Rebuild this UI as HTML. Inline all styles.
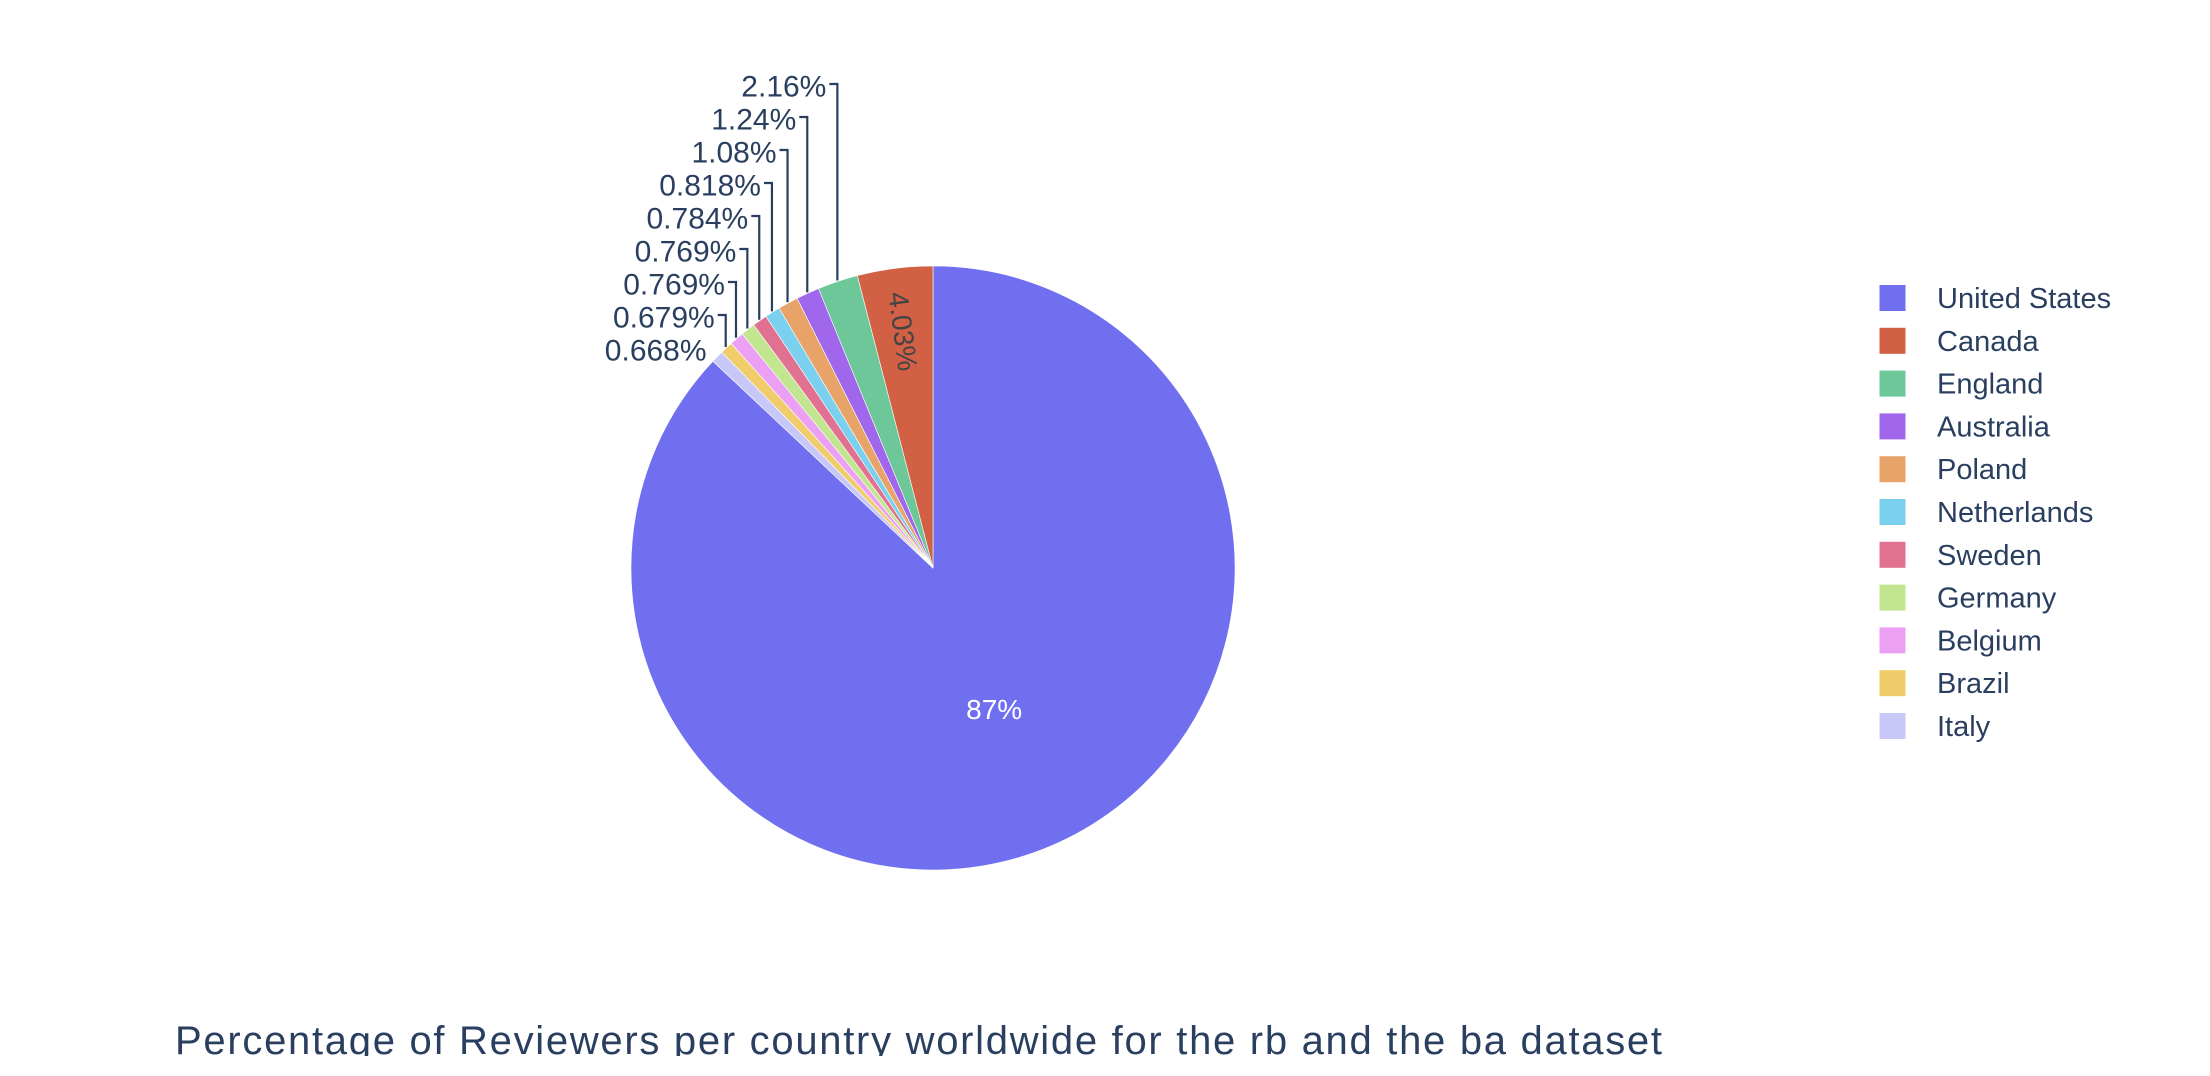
<!DOCTYPE html>
<html><head><meta charset="utf-8"><style>
html,body{margin:0;padding:0;background:#fff;}
#wrap{width:2210px;height:1076px;position:relative;overflow:hidden;}
svg text{font-family:"Liberation Sans",sans-serif;}
</style></head><body>
<div id="wrap">
<svg id="svg" width="2210" height="1076" xmlns="http://www.w3.org/2000/svg">
<defs><clipPath id="tc"><rect x="0" y="0" width="2210" height="1056"/></clipPath></defs>
<g id="slices"></g>
<g id="labels"></g>
<g id="legend"></g>
<text x="175" y="1054" font-size="40" fill="#2a3f5f" clip-path="url(#tc)" textLength="1487">Percentage of Reviewers per country worldwide for the rb and the ba dataset</text>
</svg>
</div>
<script>
const countries = ["United States","Canada","England","Australia","Poland","Netherlands","Sweden","Germany","Belgium","Brazil","Italy"];
const percents = [87, 4.03, 2.16, 1.24, 1.08, 0.818, 0.784, 0.769, 0.769, 0.679, 0.668];
const labelsText = ["87%","4.03%","2.16%","1.24%","1.08%","0.818%","0.784%","0.769%","0.769%","0.679%","0.668%"];
const colors = ["#6f6ff0","#d26045","#6dc799","#a066ec","#e8a468","#7ad0ee","#e07190","#c2e690","#eca0f4","#f0cc6a","#c8c8f8"];

const NS="http://www.w3.org/2000/svg";
const cx=933, cy=568, R=302;
function mk(tag,attrs,parent){const e=document.createElementNS(NS,tag);for(const k in attrs)e.setAttribute(k,attrs[k]);parent.appendChild(e);return e;}
const total=percents.reduce((a,b)=>a+b,0);
function pt(angDeg,r){const a=angDeg*Math.PI/180;return [cx+r*Math.sin(a), cy-r*Math.cos(a)];}
const order=[0]; for(let i=countries.length-1;i>=1;i--) order.push(i);
const slicesG=document.getElementById('slices'), labG=document.getElementById('labels');
let ang=0; const mids={};
order.forEach(i=>{
  const span=percents[i]/total*360, a0=ang, a1=ang+span; ang=a1;
  mids[i]=(a0+a1)/2;
  const p0=pt(a0,R), p1=pt(a1,R);
  const large=span>180?1:0;
  const p=mk('path',{d:`M${cx},${cy} L${p0[0]},${p0[1]} A${R},${R} 0 ${large} 1 ${p1[0]},${p1[1]} Z`,fill:colors[i],stroke:'#fff','stroke-width':0.6},slicesG);
  
  
});
{
  const m=mids[0], q=pt(m,R*0.51);
  const t=mk('text',{x:q[0],y:q[1],'font-size':28,fill:'#fff','text-anchor':'middle','dominant-baseline':'central'},labG);
  t.textContent=labelsText[0];
  
  
  const m1=mids[1], q1=pt(m1,R*0.79);
  const rot=90+(m1-360);
  const t1=mk('text',{x:q1[0],y:q1[1],'font-size':28,fill:'#444','text-anchor':'middle','dominant-baseline':'central',transform:`rotate(${rot} ${q1[0]} ${q1[1]})`},labG);
  t1.textContent=labelsText[1];
  
  
}
for(let i=2;i<countries.length;i++){
  const k=i-2, rowY=84+33*k;
  const p=pt(mids[i],R+1);
  let endX;
  if(p[1]-rowY>15){
    const lx=p[0];
    endX=lx-11;
    const l=mk('polyline',{points:`${p[0]},${p[1]} ${lx},${rowY} ${endX+3},${rowY}`,fill:'none',stroke:'#2a3f5f','stroke-width':2.2},labG);
    
    
  } else { endX=p[0]-10; }
  const t=mk('text',{x:endX,y:rowY+3,'font-size':30,fill:'#2a3f5f','text-anchor':'end','dominant-baseline':'central'},labG);
  t.textContent=labelsText[i];
  
  
}
const lg=document.getElementById('legend');
countries.forEach((c,i)=>{
  const y=298+42.8*i;
  const g=mk('g',{},lg);
  
  
  mk('rect',{x:1879,y:y-13.5,width:27,height:27,fill:colors[i],stroke:'#fff','stroke-width':1},g);
  const t=mk('text',{x:1937,y:y+1,'font-size':29,fill:'#2a3f5f','dominant-baseline':'central'},g);
  t.textContent=c;
});
</script>
</body></html>
